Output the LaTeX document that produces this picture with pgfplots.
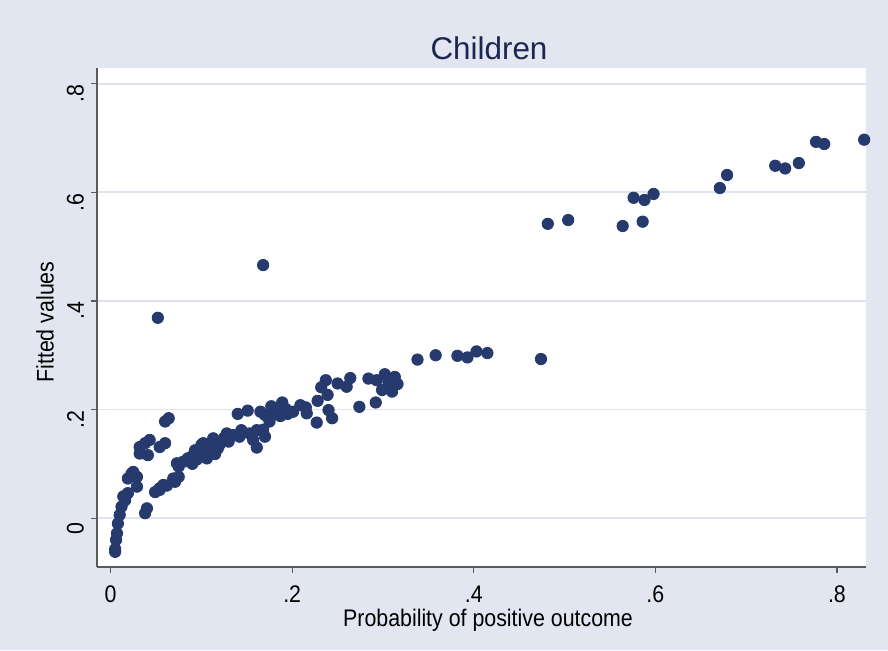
\documentclass[border=0pt]{standalone}
\usepackage{pgfplots}
\pgfplotsset{compat=1.18}
\usepackage{fontspec}
\setmainfont{Liberation Sans}
\newfontfamily\narrowfont[FakeStretch=0.89]{Liberation Sans}
\definecolor{bgc}{RGB}{225,230,240}
\definecolor{gridc}{RGB}{222,227,238}
\definecolor{markc}{RGB}{38,58,110}
\definecolor{titlec}{RGB}{28,38,80}
\definecolor{axc}{RGB}{90,90,90}
\begin{document}
\begin{tikzpicture}
\fill[bgc] (0,0) rectangle (444pt,325pt);
\begin{axis}[
  at={(48.5pt,41.5pt)}, anchor=south west,
  scale only axis, width=384.5pt, height=249.5pt,
  xmin=-0.015, xmax=0.832, ymin=-0.090, ymax=0.829,
  axis background/.style={fill=white},
  axis x line*=bottom, axis y line*=left,
  axis line style={-, draw=axc, line width=0.6pt},
  tick align=outside, major tick length=3pt,
  every tick/.style={draw=axc, line width=0.6pt},
  xtick={0,0.2,0.4,0.6,0.8}, xticklabels={0,.2,.4,.6,.8},
  ytick={0,0.2,0.4,0.6,0.8}, yticklabels={0,.2,.4,.6,.8},
  ymajorgrids, major grid style={draw=gridc, line width=0.9pt},
  ticklabel style={font=\narrowfont\fontsize{12}{14}\selectfont, text=black},
  xticklabel style={yshift=-2.8pt},
  yticklabel style={rotate=90, anchor=south, xshift=-5pt},
  minor tick num=0,
  clip=false,
]
\addplot[only marks, mark=*, mark size=2.85pt, color=markc, mark options={draw=markc, fill=markc}] table {
x y
0.4815 0.542
0.504 0.549
0.564 0.538
0.586 0.546
0.576 0.590
0.588 0.586
0.598 0.597
0.671 0.608
0.679 0.632
0.732 0.649
0.743 0.644
0.758 0.654
0.777 0.693
0.786 0.689
0.830 0.697
0.168 0.466
0.052 0.369
0.474 0.293
0.415 0.304
0.403 0.307
0.393 0.296
0.382 0.299
0.358 0.300
0.338 0.292
0.302 0.265
0.313 0.260
0.237 0.254
0.250 0.248
0.264 0.258
0.260 0.242
0.232 0.241
0.239 0.227
0.228 0.216
0.284 0.257
0.293 0.254
0.299 0.236
0.310 0.233
0.306 0.251
0.316 0.247
0.274 0.205
0.292 0.213
0.240 0.199
0.244 0.184
0.227 0.176
0.140 0.192
0.151 0.198
0.165 0.196
0.177 0.206
0.189 0.213
0.209 0.208
0.215 0.204
0.176 0.187
0.187 0.188
0.201 0.196
0.175 0.178
0.216 0.193
0.182 0.197
0.193 0.201
0.170 0.190
0.195 0.192
0.102 0.138
0.113 0.147
0.128 0.156
0.135 0.153
0.144 0.162
0.153 0.156
0.161 0.162
0.168 0.163
0.170 0.150
0.157 0.144
0.161 0.130
0.106 0.110
0.115 0.118
0.130 0.141
0.142 0.150
0.120 0.135
0.125 0.148
0.108 0.125
0.118 0.128
0.064 0.184
0.060 0.178
0.043 0.144
0.038 0.138
0.032 0.131
0.032 0.119
0.041 0.116
0.060 0.138
0.054 0.131
0.023 0.082
0.029 0.076
0.019 0.073
0.025 0.085
0.029 0.058
0.019 0.046
0.016 0.033
0.014 0.040
0.012 0.021
0.010 0.006
0.008 -0.010
0.007 -0.028
0.006 -0.040
0.005 -0.057
0.005 -0.062
0.038 0.009
0.040 0.018
0.049 0.048
0.054 0.055
0.058 0.061
0.071 0.067
0.075 0.076
0.073 0.101
0.080 0.104
0.089 0.113
0.097 0.119
0.104 0.128
0.111 0.138
0.075 0.095
0.085 0.110
0.093 0.125
0.100 0.135
0.069 0.073
0.054 0.052
0.062 0.060
0.090 0.100
0.095 0.108
};
\end{axis}
\node[text=titlec, font=\fontsize{15.7}{18}\selectfont] at (244.5pt,301pt) {Children};
\node[text=black, font=\narrowfont\fontsize{12}{14}\selectfont] at (244pt,15pt) {Probability of positive outcome};
\node[text=black, font=\narrowfont\fontsize{12}{14}\selectfont, rotate=90] at (22.5pt,164pt) {Fitted values};
\end{tikzpicture}
\end{document}
